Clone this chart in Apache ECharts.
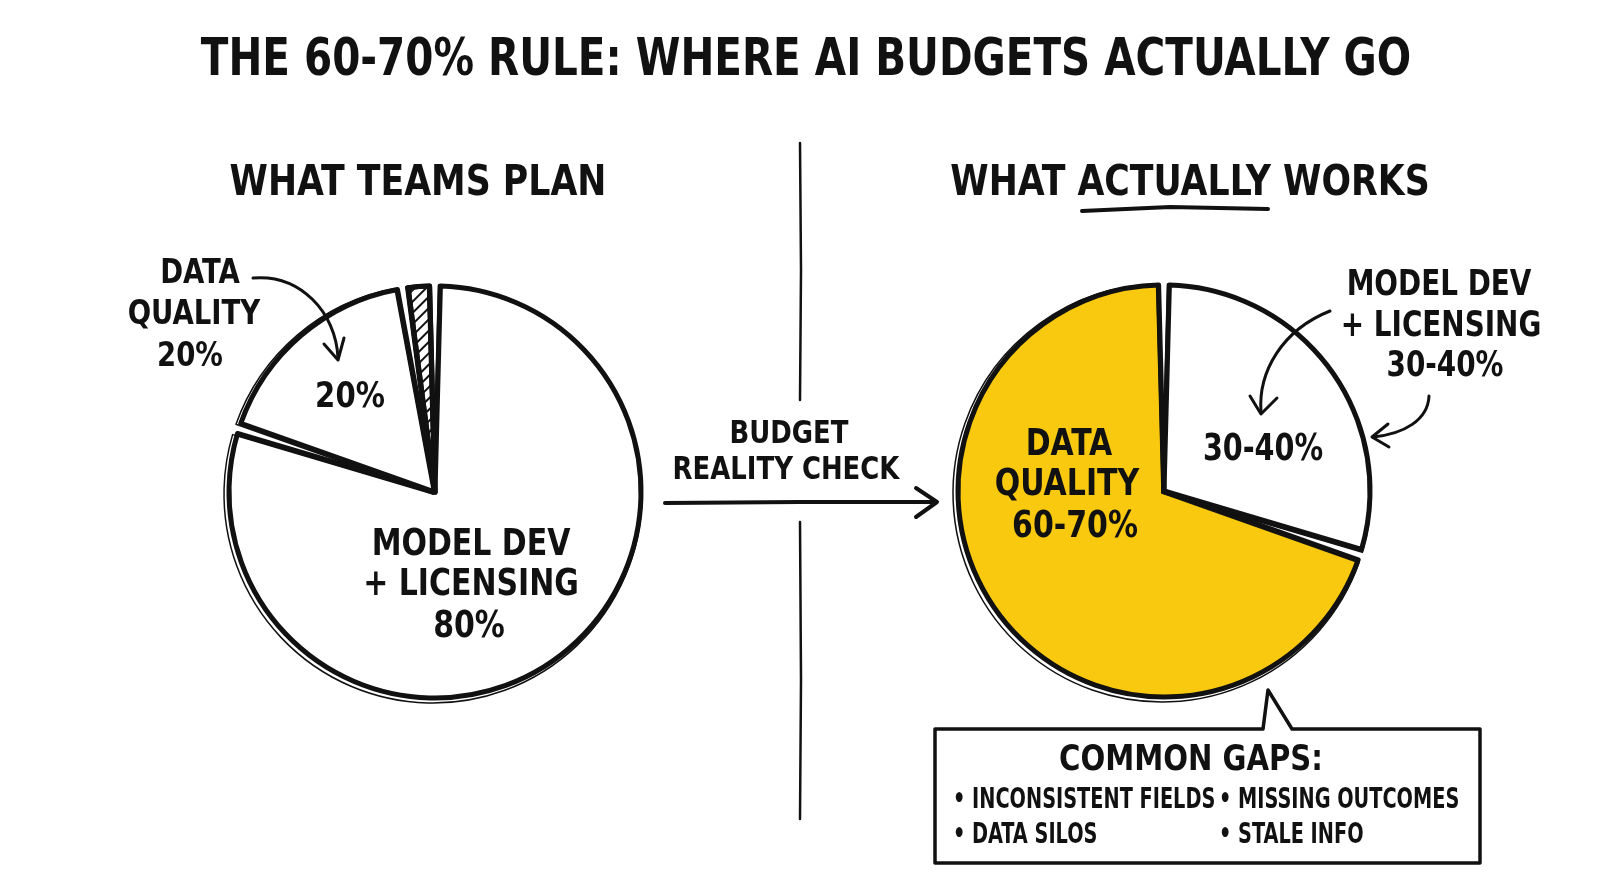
<!doctype html>
<html>
<head>
<meta charset="utf-8">
<title>AI budgets</title>
<script src="https://cdn.jsdelivr.net/npm/echarts@6/dist/echarts.min.js"></script>
<style>
  html, body { margin: 0; padding: 0; background: #fff; }
  #main { width: 1600px; height: 893px; }
</style>
</head>
<body>
<div id="main"></div>
<script>
// data
var planNames = ['MODEL DEV + LICENSING', 'DATA QUALITY', 'OTHER'];
var planValues = [80, 17.5, 2.5];
var worksNames = ['MODEL DEV + LICENSING', 'DATA QUALITY'];
var worksValues = [30, 70];
var gapItems = ['INCONSISTENT FIELDS', 'MISSING OUTCOMES', 'DATA SILOS', 'STALE INFO'];

var FONT = "'DejaVu Sans Condensed', 'Liberation Sans Narrow', 'DejaVu Sans', sans-serif";
var INK = '#111';
var YELLOW = '#F8C90E';

function txt(x, y, s, size, sx, align) {
  return {
    type: 'text', x: x, y: y, z: 100, scaleX: sx || 0.9, originX: 0,
    style: { text: s, fill: INK, font: 'bold ' + size + 'px ' + FONT,
             textAlign: align || 'center', textVerticalAlign: 'middle' }
  };
}
function ln(pts, w) {
  return { type: 'polyline', z: 100, shape: { points: pts },
           style: { stroke: INK, lineWidth: w || 3, fill: null, lineCap: 'round', lineJoin: 'round' } };
}
function curve(x1, y1, c1x, c1y, c2x, c2y, x2, y2, w) {
  return { type: 'bezierCurve', z: 100,
           shape: { x1: x1, y1: y1, cpx1: c1x, cpy1: c1y, cpx2: c2x, cpy2: c2y, x2: x2, y2: y2 },
           style: { stroke: INK, lineWidth: w || 3, fill: null, lineCap: 'round' } };
}

var chart = echarts.init(document.getElementById('main'), null, { renderer: 'canvas' });

var graphics = [
  txt(806, 61, 'THE 60-70% RULE: WHERE AI BUDGETS ACTUALLY GO', 52, 0.865),
  txt(418, 184, 'WHAT TEAMS PLAN', 42, 0.92),
  txt(1190, 184, 'WHAT ACTUALLY WORKS', 42, 0.92),
  ln([[1082, 211], [1170, 207], [1268, 209]], 4),
  // divider
  ln([[800, 143], [801, 270], [800, 400]], 2.5),
  ln([[800, 522], [801, 680], [800, 819]], 2.5),
  // reality check arrow
  txt(789, 435, 'BUDGET', 32),
  txt(786, 471, 'REALITY CHECK', 32),
  ln([[665, 503], [800, 502], [935, 502]], 4),
  ln([[916, 488], [937, 502], [916, 517]], 4),
  // left labels
  txt(200, 274, 'DATA', 34),
  txt(194, 315, 'QUALITY', 34),
  txt(190, 357, '20%', 34),
  curve(253, 278, 300, 274, 336, 312, 338, 358, 3),
  ln([[324, 344], [338, 360], [344, 338]], 3),
  txt(350, 398, '20%', 36),
  txt(471, 545, 'MODEL DEV', 37),
  txt(471, 585, '+ LICENSING', 37),
  txt(469, 627, planValues[0] + '%', 37),
  // right labels
  txt(1069, 445, 'DATA', 37),
  txt(1067, 485, 'QUALITY', 37),
  txt(1075, 527, '60-70%', 37),
  txt(1263, 450, '30-40%', 37, 0.86),
  txt(1439, 286, 'MODEL DEV', 36, 0.86),
  txt(1441, 327, '+ LICENSING', 36, 0.86),
  txt(1445, 367, '30-40%', 36, 0.86),
  curve(1330, 311, 1282, 330, 1258, 372, 1261, 412, 3),
  ln([[1250, 396], [1261, 414], [1277, 398]], 3),
  curve(1429, 396, 1428, 420, 1404, 434, 1373, 437, 3),
  ln([[1388, 424], [1372, 437], [1389, 447]], 3),
  // callout
  { type: 'polygon', z: 99, shape: { points: [[935, 729], [1263, 729], [1268, 690], [1292, 729],
      [1480, 729], [1480, 863], [935, 863]] },
    style: { fill: '#fff', stroke: INK, lineWidth: 3.5, lineJoin: 'round' } },
  txt(1191, 761, 'COMMON GAPS:', 36, 0.9),
  txt(953, 800, '\u2022 ' + gapItems[0], 29, 0.74, 'left'),
  txt(1219, 800, '\u2022 ' + gapItems[1], 29, 0.74, 'left'),
  txt(953, 835, '\u2022 ' + gapItems[2], 29, 0.74, 'left'),
  txt(1219, 835, '\u2022 ' + gapItems[3], 29, 0.74, 'left')
];

var planData = planValues.map(function (v, i) {
  var d = { name: planNames[i], value: v, itemStyle: { color: '#fff' } };
  if (i === 2) {
    d.itemStyle.decal = { symbol: 'rect', symbolSize: 1, color: INK,
      dashArrayX: [1, 0], dashArrayY: [1.5, 6], rotation: -Math.PI / 4 };
  }
  return d;
});
var worksData = worksValues.map(function (v, i) {
  return { name: worksNames[i], value: v, itemStyle: { color: i === 1 ? YELLOW : '#fff' } };
});

function pieSeries(name, center, data, r, width, fill) {
  return {
    type: 'pie', name: name, center: center, radius: [0, r],
    startAngle: 90, clockwise: true, padAngle: 3,
    label: { show: false }, labelLine: { show: false }, silent: true,
    itemStyle: { borderColor: INK, borderWidth: width, borderJoin: 'round' },
    data: fill ? data : data.map(function (d) {
      return { name: d.name, value: d.value, itemStyle: { color: 'rgba(0,0,0,0)' } };
    })
  };
}

chart.setOption({
  backgroundColor: '#fff',
  animation: false,
  series: [
    pieSeries('plan', [435, 492], planData, 206, 5, true),
    pieSeries('plan sketch', [433, 494], planData, 209, 1.5, false),
    pieSeries('works', [1164, 491], worksData, 206, 5, true),
    pieSeries('works sketch', [1162, 493], worksData, 209, 1.5, false)
  ],
  graphic: graphics
});
</script>
</body>
</html>
